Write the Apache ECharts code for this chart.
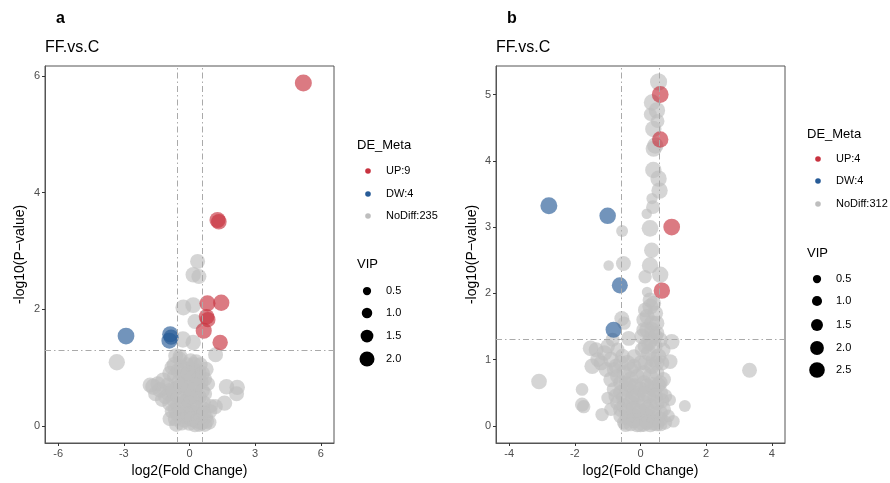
<!DOCTYPE html>
<html><head><meta charset="utf-8">
<script src="https://cdn.jsdelivr.net/npm/echarts@6/dist/echarts.min.js"></script>
<style>html,body{margin:0;padding:0;background:#fff}#c{width:890px;height:483px}</style>
</head><body><div id="c"></div>
<script>
// ---- data: [log2FC, -log10(P), VIP] ----
const upA = [[5.2,5.88,2.45],[1.28,3.53,2.25],[1.34,3.50,2.15],[0.82,2.10,2.25],[1.45,2.11,2.3],[0.78,1.87,2.15],[0.84,1.82,2.05],[0.65,1.63,2.25],[1.4,1.43,2.1]];
const dwA = [[-2.9,1.54,2.4],[-0.88,1.57,2.25],[-0.84,1.52,2.05],[-0.92,1.46,2.2]];
const nsA = [[-3.32,1.09,2.3],[0.37,2.82,2.0],[0.17,2.59,2.1],[0.43,2.56,2.0],[-0.28,2.03,2.2],[0.17,2.07,2.2],[0.25,1.79,2.0],[-0.3,1.48,2.3],[0.17,1.43,2.1],[1.19,1.22,2.0],
[-0.63,1.2,2.0],[-0.45,1.15,1.9],[0.05,1.12,1.9],[0.3,1.1,2.0],[0.5,1.05,1.9],[0.76,0.97,2.0],[-0.8,1.0,2.0],[-0.2,0.98,1.9],[0.15,0.95,2.1],[0.45,0.9,2.0],
[-1.65,0.67,2.3],[-1.2,0.78,2.2],[-1.35,0.62,2.1],[-1.0,0.7,2.0],[-0.95,0.55,2.1],[-0.7,0.85,1.9],[-0.6,0.65,2.0],[-0.75,0.45,1.9],[-0.5,0.75,2.0],[-0.4,0.55,2.1],
[-0.3,0.85,2.0],[-0.55,0.35,2.0],[-0.8,0.25,1.9],[-0.65,0.12,2.0],[-0.45,0.2,2.0],[-0.3,0.3,2.1],[-0.2,0.6,1.9],[-0.1,0.45,2.0],[-0.15,0.15,2.1],[-0.35,0.05,2.0],
[-0.6,0.02,1.9],[-0.2,0.75,1.9],[0.0,0.8,2.0],[0.1,0.6,2.0],[0.2,0.4,2.1],[0.05,0.25,2.0],[0.0,0.05,2.1],[0.2,0.1,2.0],[0.35,0.7,2.1],[0.45,0.5,2.0],
[0.55,0.75,1.9],[0.6,0.3,2.0],[0.4,0.2,2.1],[0.55,0.05,2.0],[0.75,0.15,1.9],[0.7,0.55,1.9],[0.3,0.95,1.9],[0.25,0.02,2.0],[0.45,0.02,1.9],[0.8,0.08,1.8],
[0.65,0.4,1.9],[0.1,0.85,1.9],[1.69,0.67,2.1],[2.18,0.66,2.1],[2.15,0.55,2.0],[1.6,0.39,2.1],[1.18,0.33,2.0],[0.98,0.34,1.8],[0.9,0.06,1.9],[0.85,0.72,1.8],
[0.95,0.25,1.8],[-0.43,1.19,2.0],[-0.1,1.05,1.9],[-1.45,0.72,2.0],[-0.85,0.62,1.9],
[-0.9,0.9,2.0],[-0.7,1.05,2.0],[-0.5,0.95,2.1],[-0.35,1.0,2.0],[0.2,1.05,2.0],[0.4,0.8,2.0],[0.6,0.9,1.9],[-1.1,0.5,2.0],[-1.25,0.45,1.9],[-0.9,0.38,2.0],
[-0.65,0.28,2.0],[-0.5,0.5,2.1],[-0.25,0.4,2.1],[0.0,0.38,2.1],[0.15,0.22,2.0],[0.3,0.5,2.1],[0.35,0.3,2.0],[0.5,0.15,2.0],[0.65,0.22,1.9],[0.7,0.8,1.9],
[-0.05,0.65,2.0],[0.25,0.7,2.0],[-0.4,0.7,2.0],[-0.75,0.6,2.0],[-0.55,0.2,2.0],[-0.25,0.1,2.0],[0.1,0.12,2.1],[0.35,0.08,2.0],[0.6,0.6,1.9],[-0.05,0.9,2.0],
[-1.55,0.55,2.0],[-1.8,0.7,2.0],[-0.1,0.2,2.0],[0.05,0.5,2.0],[-0.9,0.12,1.9],[0.7,0.02,1.9]];

const upB = [[0.6,5.0,2.8],[0.6,4.32,2.7],[0.95,3.0,2.8],[0.65,2.04,2.7]];
const dwB = [[-2.79,3.32,2.85],[-1.0,3.17,2.75],[-0.63,2.12,2.6],[-0.82,1.45,2.6]];
const nsB = [[0.55,5.19,2.9],[0.35,4.88,2.7],[0.5,4.76,2.7],[0.39,4.48,2.7],[0.45,4.23,2.7],[0.4,4.18,2.6],[0.39,3.86,2.7],[0.55,3.73,2.7],[0.58,3.55,2.7],[0.35,3.43,1.3],
[0.38,3.30,2.0],[0.19,3.2,1.1],[0.29,2.98,2.8],[0.34,2.65,2.4],[0.29,2.42,2.7],[0.6,2.28,2.7],[0.14,2.25,1.9],[-0.56,2.94,1.5],[-0.52,2.45,2.3],[-0.97,2.42,1.1],
[0.29,1.9,2.3],[0.2,2.02,1.1],[0.52,4.6,2.0],[0.3,4.7,1.8],
[0.3,1.8,2.6],[0.15,1.75,2.3],[0.45,1.7,2.5],[0.1,1.6,2.3],[0.35,1.55,2.6],[0.2,1.45,2.5],[0.5,1.4,2.3],[0.05,1.35,2.5],[0.3,1.3,2.6],[0.15,1.2,2.5],
[0.45,1.2,2.3],[0.55,1.05,2.5],[0.25,1.1,2.6],[0.05,1.15,2.3],[0.4,1.0,2.5],[0.65,0.95,2.3],[0.7,1.15,2.1],[0.6,1.3,2.3],
[-0.57,1.62,2.3],[-0.5,1.55,1.9],[-0.36,1.32,2.3],[0.95,1.27,2.5],[-0.85,1.3,2.1],[-1.52,1.17,2.5],[-1.35,1.15,2.3],[-1.1,1.1,2.5],[-1.3,1.0,2.3],[-1.47,0.9,2.5],
[-0.9,1.0,2.5],[-0.7,1.15,2.1],[-0.75,0.9,2.3],[-0.55,1.05,2.3],[-1.05,0.85,2.3],[-0.4,0.95,2.5],[-0.2,0.9,2.3],[0.9,0.97,2.3],
[-3.09,0.67,2.5],[3.32,0.84,2.3],[-1.78,0.55,1.7],[-1.78,0.32,2.1],[-1.73,0.29,1.9],[-1.17,0.17,1.9],[-1.0,0.42,1.7],[0.9,0.39,1.5],[1.35,0.30,1.5],[1.0,0.07,1.7],
[0.85,0.15,1.7],
[-0.9,0.7,2.4],[-0.7,0.75,2.3],[-0.5,0.8,2.5],[-0.3,0.7,2.6],[-0.1,0.75,2.3],[0.1,0.8,2.5],[0.3,0.75,2.5],[0.5,0.8,2.3],[0.7,0.7,2.3],
[-0.8,0.55,2.3],[-0.6,0.5,2.5],[-0.4,0.55,2.6],[-0.2,0.5,2.5],[0.0,0.55,2.6],[0.2,0.6,2.5],[0.4,0.55,2.6],[0.6,0.5,2.5],[0.75,0.45,2.1],
[-0.7,0.35,2.3],[-0.5,0.3,2.5],[-0.3,0.35,2.6],[-0.1,0.3,2.6],[0.1,0.35,2.5],[0.3,0.3,2.6],[0.5,0.35,2.5],[0.7,0.25,2.3],[-0.9,0.25,1.9],
[-0.6,0.15,2.3],[-0.4,0.12,2.5],[-0.2,0.15,2.6],[0.0,0.12,2.6],[0.2,0.15,2.5],[0.4,0.1,2.6],[0.6,0.1,2.5],[0.75,0.05,2.1],
[-0.3,0.03,2.3],[-0.1,0.02,2.5],[0.1,0.03,2.6],[0.3,0.02,2.5],[0.5,0.03,2.3],[-0.5,0.05,2.1],
[0.0,0.95,2.3],[-0.2,1.05,2.1],[0.55,0.62,2.3],[-0.45,0.65,2.1],[0.25,0.45,2.5],[-0.25,0.42,2.3],
[-0.6,0.65,2.4],[-0.35,0.62,2.5],[-0.15,0.6,2.5],[0.1,0.65,2.4],[0.35,0.62,2.5],[0.6,0.65,2.3],[-0.75,0.45,2.3],[-0.5,0.42,2.5],[-0.1,0.45,2.5],[0.15,0.48,2.5],
[0.45,0.45,2.5],[0.65,0.38,2.3],[-0.6,0.25,2.4],[-0.4,0.22,2.5],[-0.2,0.25,2.6],[0.0,0.22,2.6],[0.2,0.25,2.5],[0.4,0.22,2.6],[0.6,0.2,2.4],[-0.45,0.02,2.3],
[-0.2,0.08,2.4],[0.0,0.02,2.5],[0.2,0.06,2.5],[0.4,0.04,2.4],[0.6,0.03,2.3],[-0.8,0.85,2.3],[-0.6,0.95,2.4],[-0.3,0.85,2.4],[0.15,0.95,2.4],[0.35,0.9,2.5],
[0.5,0.95,2.3],[-1.2,0.95,2.3],[-1.0,1.2,2.2],[0.35,1.45,2.5],[0.2,1.65,2.4],[0.4,1.85,2.3],[0.25,1.25,2.5],[0.45,1.35,2.4],[0.1,1.45,2.3],[0.5,1.55,2.3]];

const xTicksA = [-6,-3,0,3,6], yTicksA = [0,2,4,6];
const xTicksB = [-4,-2,0,2,4], yTicksB = [0,1,2,3,4,5];
const legendA = ['UP:9','DW:4','NoDiff:235'], legendB = ['UP:4','DW:4','NoDiff:312'];
const vipBreaksA = [0.5,1.0,1.5,2.0], vipBreaksB = [0.5,1.0,1.5,2.0,2.5];
const titleText = 'FF.vs.C';
const fcCut = Math.log2(1.5), pCut = -Math.log10(0.05);

// ---- styling ----
const F = '"Liberation Sans", Arial, sans-serif';
const COL = {up:'#C8323F', dw:'#275B97', ns:'#BEBEBE'};
const OP = 0.65;
const sizeA = v => 6 + 4.5*v;
const sizeB = v => 6.4 + 3.7*v;

const G = [{left:45, top:66, width:289, height:377}, {left:496, top:66, width:289, height:377}];

function xAx(gi, min, max, ticks){
  return {type:'value', gridIndex:gi, min, max, name:'log2(Fold Change)', nameLocation:'middle', nameGap:19,
    nameTextStyle:{color:'#000', fontSize:14, fontFamily:F},
    axisLine:{show:true, onZero:false, lineStyle:{color:'#555'}}, splitLine:{show:false},
    axisTick:{show:true, length:3, lineStyle:{color:'#333'}, customValues:ticks},
    axisLabel:{color:'#4d4d4d', fontSize:11, margin:5, fontFamily:F, customValues:ticks}};
}
function yAx(gi, min, max, ticks, gap){
  return {type:'value', gridIndex:gi, min, max, name:'-log10(P\u2212value)', nameLocation:'middle', nameGap:gap,
    nameTextStyle:{color:'#000', fontSize:14, fontFamily:F},
    axisLine:{show:true, onZero:false, lineStyle:{color:'#555'}}, splitLine:{show:false},
    axisTick:{show:true, length:3, lineStyle:{color:'#333'}, customValues:ticks},
    axisLabel:{color:'#4d4d4d', fontSize:11, margin:5, fontFamily:F, customValues:ticks}};
}
function sc(name, data, gi, color, sz){
  return {type:'scatter', name, xAxisIndex:gi, yAxisIndex:gi, data, symbol:'circle',
    symbolSize: d => sz(d[2]), itemStyle:{color, opacity:OP}, silent:true, animation:false};
}
const lineStyle = {color:'#aaaaaa', width:1, type:[6,3,1.5,3]};
function refLines(gi){
  return {type:'scatter', xAxisIndex:gi, yAxisIndex:gi, data:[], z:5, silent:true, animation:false,
    markLine:{silent:true, symbol:['none','none'], label:{show:false}, lineStyle, animation:false,
      data:[{xAxis:-fcCut},{xAxis:fcCut},{yAxis:pCut}]}};
}

// ---- legends & titles (graphic) ----
const graphic = [];
function txt(x, y, text, size, opt){
  graphic.push(Object.assign({type:'text', x, y, silent:true, style:Object.assign({text, fontSize:size, fontFamily:F, fill:'#000', align:'left', verticalAlign:'middle'}, opt||{})}));
}
function legend(x0, yTitle, yItems, labels, yVip, yBreaks, breaks, sz){
  txt(x0, yTitle, 'DE_Meta', 13);
  const cols = [COL.up, COL.dw, COL.ns];
  labels.forEach((l,i)=>{
    graphic.push({type:'circle', silent:true, shape:{cx:x0+11, cy:yItems[i], r:2.8}, style:{fill:cols[i]}});
    txt(x0+29, yItems[i], l, 11);
  });
  txt(x0, yVip, 'VIP', 13);
  breaks.forEach((b,i)=>{
    graphic.push({type:'circle', silent:true, shape:{cx:x0+10, cy:yBreaks[i], r:sz(b)/2}, style:{fill:'#000'}});
    txt(x0+29, yBreaks[i], b.toFixed(1), 11);
  });
}
txt(56, 19, 'a', 16, {fontWeight:'bold'});
txt(507, 19, 'b', 16, {fontWeight:'bold'});
txt(45, 48, titleText, 16);
txt(496, 48, titleText, 16);
legend(357, 145, [171,194,216], legendA, 264, [291,313,336,359], vipBreaksA, sizeA);
legend(807, 134, [159,181,204], legendB, 253, [279,301,325,348,370], vipBreaksB, sizeB);

const chart = echarts.init(document.getElementById('c'), null, {renderer:'canvas'});
chart.setOption({
  animation:false,
  backgroundColor:'#fff',
  grid: G.map(g=>Object.assign({show:true, borderColor:'#555', borderWidth:1, backgroundColor:'transparent'}, g)),
  xAxis:[xAx(0,-6.6,6.6,xTicksA), xAx(1,-4.4,4.4,xTicksB)],
  yAxis:[yAx(0,-0.294,6.17,yTicksA,18), yAx(1,-0.2585,5.43,yTicksB,17)],
  series:[
    sc('NoDiff A', nsA, 0, COL.ns, sizeA), sc('DW A', dwA, 0, COL.dw, sizeA), sc('UP A', upA, 0, COL.up, sizeA), refLines(0),
    sc('NoDiff B', nsB, 1, COL.ns, sizeB), sc('DW B', dwB, 1, COL.dw, sizeB), sc('UP B', upB, 1, COL.up, sizeB), refLines(1)
  ],
  graphic
});
</script></body></html>
